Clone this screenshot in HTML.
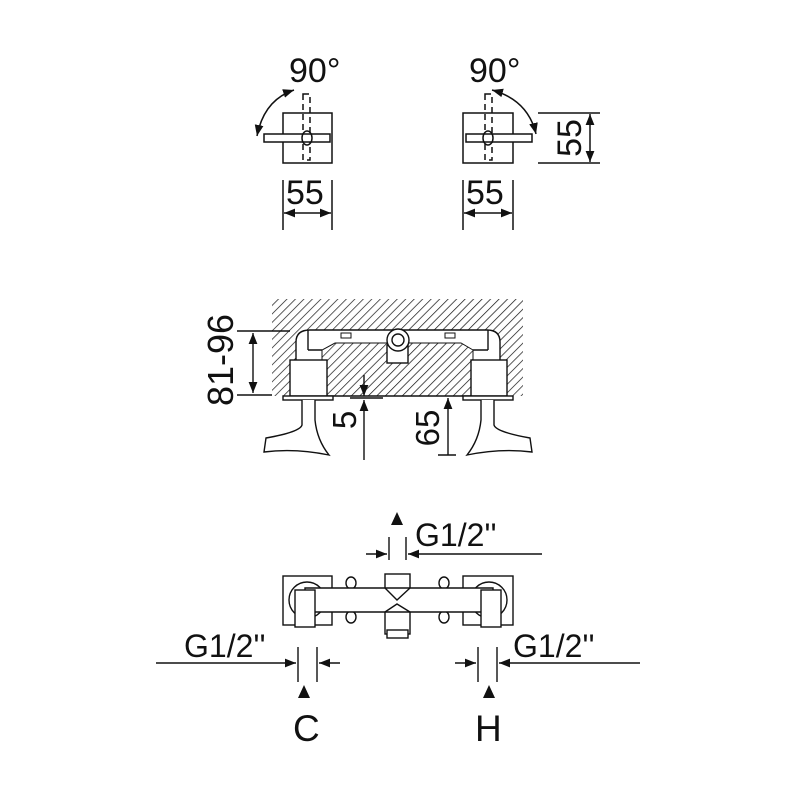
<!DOCTYPE html>
<html><head><meta charset="utf-8"><style>html,body{margin:0;background:#fff}svg{display:block}text{font-family:"Liberation Sans","DejaVu Sans",sans-serif;fill:#111}</style></head><body>
<svg width="800" height="800" viewBox="0 0 800 800" xmlns="http://www.w3.org/2000/svg">
<defs>
<pattern id="h" patternUnits="userSpaceOnUse" width="6" height="6" patternTransform="rotate(45)"><line x1="0" y1="0" x2="0" y2="6" stroke="#111" stroke-width="1.4"/></pattern>
<marker id="a" viewBox="0 0 10 10" refX="10" refY="5" markerWidth="11" markerHeight="11" markerUnits="userSpaceOnUse" orient="auto-start-reverse"><path d="M0,1 L10,5 L0,9z" fill="#111"/></marker>
</defs>
<rect x="0" y="0" width="800" height="800" fill="#fff"/>
<g stroke="#111" stroke-width="1.5" fill="none">
<!-- top left -->
<rect x="283" y="113" width="49" height="50" fill="#fff"/>
<path d="M303,94 h7 v66 h-7 z" stroke-dasharray="6,4"/>
<rect x="264" y="134" width="66" height="8" fill="#fff"/>
<ellipse cx="307" cy="138" rx="5" ry="7"/>
<path d="M294,90 Q264,100 257,136" marker-start="url(#a)" marker-end="url(#a)"/>
<path d="M283,180 V230 M332,180 V230"/>
<path d="M284,213 H331" marker-start="url(#a)" marker-end="url(#a)"/>
<!-- top right -->
<rect x="463" y="113" width="50" height="50" fill="#fff"/>
<path d="M485,94 h7 v66 h-7 z" stroke-dasharray="6,4"/>
<rect x="466" y="134" width="66" height="8" fill="#fff"/>
<ellipse cx="488" cy="138" rx="5" ry="7"/>
<path d="M492,90 Q528,100 536,134" marker-start="url(#a)" marker-end="url(#a)"/>
<path d="M463,180 V230 M513,180 V230"/>
<path d="M464,213 H512" marker-start="url(#a)" marker-end="url(#a)"/>
<path d="M538,113 H600 M538,163 H600"/>
<path d="M590,114 V162" marker-start="url(#a)" marker-end="url(#a)"/>
</g>
<g stroke="none">
<text x="289" y="82" font-size="34">90°</text>
<text x="469" y="82" font-size="34">90°</text>
<text x="286" y="204" font-size="34">55</text>
<text x="466" y="204" font-size="34">55</text>
<text transform="translate(581,138) rotate(-90)" font-size="34" text-anchor="middle">55</text>
</g>
<!-- middle -->
<g stroke="#111" stroke-width="1.4">
<rect x="272" y="299" width="251" height="97" fill="url(#h)" stroke="none"/>
<path d="M296,396 V342 Q296,330 310,330 H487 Q500,330 500,342 V396 Z" fill="#fff"/>
<path d="M322,396 V350 L335,343 H461 L473,350 V396 Z" fill="url(#h)" stroke="none"/>
<path d="M322,396 V350 L335,343 H461 L473,350 V396" fill="none" stroke-width="1"/>
<path d="M308,330 V350 M488,330 V350 M308,350 H322 M473,350 H488" fill="none"/>
<rect x="290" y="360" width="37" height="36" fill="#fff"/>
<rect x="471" y="360" width="36" height="36" fill="#fff"/>
<rect x="387" y="345" width="21" height="18" fill="#fff"/>
<circle cx="398" cy="340" r="11" fill="#fff"/>
<circle cx="398" cy="340" r="6" fill="none"/>
<rect x="341" y="333" width="10" height="5" fill="#fff" stroke-width="1"/>
<rect x="445" y="333" width="10" height="5" fill="#fff" stroke-width="1"/>
<rect x="283" y="396" width="50" height="4" fill="#fff"/>
<rect x="463" y="396" width="50" height="4" fill="#fff"/>
<path d="M302,400 V425 Q300,432 266,438 L264,452 Q295,448 329,455 Q317,440 315,420 V400" fill="#fff"/>
<path d="M494,400 V425 Q496,432 530,438 L532,452 Q501,448 467,455 Q479,440 481,420 V400" fill="#fff"/>
<g fill="none">
<path d="M237,331 H290 M237,395 H272"/>
<path d="M253,333 V393" marker-start="url(#a)" marker-end="url(#a)"/>
<path d="M350,398 H383"/>
<path d="M364,375 V396" marker-end="url(#a)"/>
<path d="M364,460 V400" marker-end="url(#a)"/>
<path d="M448,455 V398" marker-end="url(#a)"/>
<path d="M438,455 H456"/>
</g>
</g>
<g stroke="none">
<text transform="translate(233,360) rotate(-90)" font-size="36" text-anchor="middle">81-96</text>
<text transform="translate(356,420) rotate(-90)" font-size="33" text-anchor="middle">5</text>
<text transform="translate(439,428) rotate(-90)" font-size="33" text-anchor="middle">65</text>
</g>
<!-- bottom -->
<g stroke="#111" stroke-width="1.4" fill="#fff">
<rect x="283" y="576" width="49" height="49"/>
<rect x="463" y="576" width="50" height="49"/>
<circle cx="307" cy="600" r="18"/>
<circle cx="489" cy="600" r="18"/>
<ellipse cx="351" cy="583" rx="5" ry="6"/><ellipse cx="351" cy="617" rx="5" ry="6"/>
<ellipse cx="444" cy="583" rx="5" ry="6"/><ellipse cx="444" cy="617" rx="5" ry="6"/>
<rect x="385" y="574" width="25" height="60"/>
<rect x="387" y="630" width="21" height="8"/>
<path d="M305,588 H493 V612 H305 Z"/>
<path d="M385,588 L397,600 L410,588 M385,612 L397,604 L410,612" fill="none"/>
<rect x="295" y="590" width="20" height="37"/>
<rect x="481" y="590" width="20" height="37"/>
<g fill="none">
<path d="M366,554 H387" marker-end="url(#a)"/>
<path d="M542,554 H408" marker-end="url(#a)"/>
<path d="M389,537 V560 M406,537 V560"/>
<path d="M156,663 H296" marker-end="url(#a)"/>
<path d="M340,663 H319" marker-end="url(#a)"/>
<path d="M298,647 V682 M317,647 V682"/>
<path d="M455,663 H476" marker-end="url(#a)"/>
<path d="M640,663 H499" marker-end="url(#a)"/>
<path d="M478,647 V682 M497,647 V682"/>
</g>
</g>
<g stroke="none" fill="#111">
<path d="M397,512 L403,525 H391 Z"/>
<path d="M304,685 L310,698 H298 Z"/>
<path d="M489,685 L495,698 H483 Z"/>
<text x="415" y="546" font-size="32">G1/2''</text>
<text x="184" y="657" font-size="32">G1/2''</text>
<text x="513" y="657" font-size="32">G1/2''</text>
<text x="293" y="741" font-size="37">C</text>
<text x="475" y="741" font-size="37">H</text>
</g>
</svg>
</body></html>
